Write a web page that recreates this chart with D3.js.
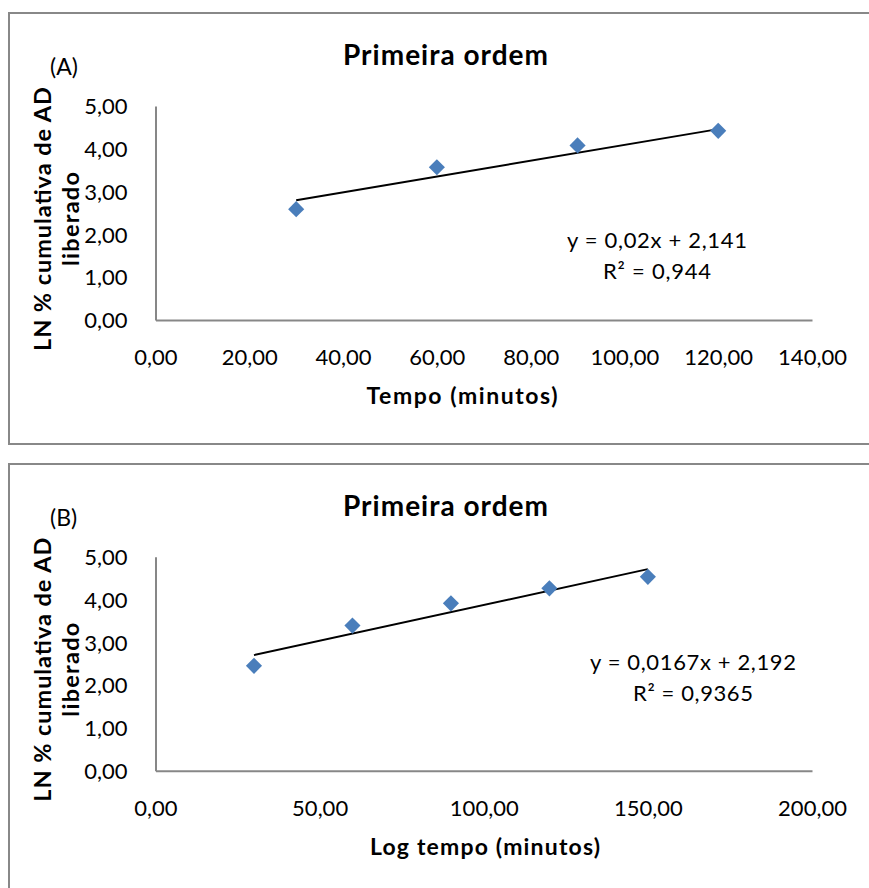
<!DOCTYPE html>
<html>
<head>
<meta charset="utf-8">
<script src="https://cdn.jsdelivr.net/npm/d3@7"></script>
<style>
  html, body { margin: 0; padding: 0; background: #fff; }
  svg { display: block; }
  text { font-family: Lato, "Open Sans", sans-serif; fill: #000; }
</style>
</head>
<body>
<svg id="chart" width="869" height="888"></svg>
<script>
// ---- Data ----
const panelLabels = ["(A)", "(B)"];
const chartTitles = ["Primeira ordem", "Primeira ordem"];
const xAxisTitles = ["Tempo (minutos)", "Log tempo (minutos)"];
const yAxisTitleLines = ["LN % cumulativa de AD", "liberado"];

const xA = [30, 60, 90, 120];
const yA = [2.59, 3.57, 4.08, 4.42];
const xB = [30, 60, 90, 120, 150];
const yB = [2.45, 3.39, 3.91, 4.26, 4.53];

const trendAx = [30, 120];
const trendAy = [2.80, 4.46];
const trendBx = [30, 150];
const trendBy = [2.70, 4.71];

const equationA = ["y = 0,02x + 2,141", "R² = 0,944"];
const equationB = ["y = 0,0167x + 2,192", "R² = 0,9365"];

const xTicksA = [0, 20, 40, 60, 80, 100, 120, 140];
const xTicksB = [0, 50, 100, 150, 200];
const yTicks = [0, 1, 2, 3, 4, 5];

// ---- Drawing ----
const svg = d3.select("#chart");
const fmt = v => d3.format(".2f")(v).replace(".", ",");
const pointColor = "#4a7ebb";
const axisColor = "#878787";

const panels = [
  { top: 13, bottom: 444, x: xA, y: yA, tx: trendAx, ty: trendAy, eq: equationA,
    xTicks: xTicksA, xMax: 140, eqX: 657, eqY: 240, eqW: [180, 108], xtX: 462, xtW: 191 },
  { top: 464, bottom: 900, x: xB, y: yB, tx: trendBx, ty: trendBy, eq: equationB,
    xTicks: xTicksB, xMax: 200, eqX: 693, eqY: 662, eqW: [206, 120], xtX: 485, xtW: 230 }
];

panels.forEach((p, i) => {
  const off = i === 0 ? 0 : 450.7;
  const g = svg.append("g");

  // panel frame (extends past right edge as in the reference)
  g.append("rect")
    .attr("x", 9).attr("y", p.top)
    .attr("width", 900).attr("height", p.bottom - p.top)
    .attr("fill", "none").attr("stroke", "#888").attr("stroke-width", 2);

  const x = d3.scaleLinear().domain([0, p.xMax]).range([155.5, 812]);
  const y = d3.scaleLinear().domain([0, 5]).range([320 + off, 106 + off]);

  // axes
  const xAxis = d3.axisBottom(x).tickValues(p.xTicks).tickSize(0).tickPadding(0).tickFormat(fmt);
  const yAxis = d3.axisLeft(y).tickValues(yTicks).tickSize(0).tickPadding(0).tickFormat(fmt);

  const gx = g.append("g").attr("transform", `translate(0,${y(0)})`).call(xAxis);
  gx.select(".domain").attr("stroke", axisColor).attr("stroke-width", 2);
  gx.selectAll("text").attr("font-size", 22).attr("font-family", "Lato")
    .attr("y", 45).attr("dy", null);

  const gy = g.append("g").attr("transform", `translate(${x(0)},0)`).call(yAxis);
  gy.select(".domain").attr("stroke", axisColor).attr("stroke-width", 2);
  gy.selectAll("text").attr("font-size", 22).attr("font-family", "Lato")
    .attr("x", -28).attr("dy", "0.35em");

  // trend line
  const line = d3.line().x(d => x(d[0])).y(d => y(d[1]));
  g.append("path")
    .datum(d3.zip(p.tx, p.ty))
    .attr("d", line)
    .attr("fill", "none").attr("stroke", "#000").attr("stroke-width", 2);

  // points (diamonds)
  const sym = d3.symbol().type(d3.symbolSquare).size(130);
  g.selectAll("path.pt")
    .data(d3.zip(p.x, p.y))
    .join("path")
    .attr("class", "pt")
    .attr("d", sym)
    .attr("transform", d => `translate(${x(d[0])},${y(d[1])}) rotate(45)`)
    .attr("fill", pointColor);

  // equation
  g.append("text").attr("x", p.eqX).attr("y", p.eqY).attr("dy", "0.35em")
    .attr("text-anchor", "middle").attr("font-size", 22)
    .attr("textLength", p.eqW[0]).attr("lengthAdjust", "spacing").text(p.eq[0]);
  g.append("text").attr("x", p.eqX).attr("y", p.eqY + 31).attr("dy", "0.35em")
    .attr("text-anchor", "middle").attr("font-size", 22)
    .attr("textLength", p.eqW[1]).attr("lengthAdjust", "spacing").text(p.eq[1]);

  // title
  g.append("text").attr("x", 445.5).attr("y", 65 + off)
    .attr("text-anchor", "middle").attr("font-size", 28).attr("font-weight", "bold")
    .attr("textLength", 205).attr("lengthAdjust", "spacing")
    .text(chartTitles[i]);

  // panel label
  g.append("text").attr("x", 50).attr("y", 67 + off).attr("dy", "0.35em")
    .attr("font-size", 23).text(panelLabels[i]);

  // x axis title
  g.append("text").attr("x", p.xtX).attr("y", 396 + off).attr("dy", "0.35em")
    .attr("text-anchor", "middle").attr("font-size", 23).attr("font-weight", "bold")
    .attr("textLength", p.xtW).attr("lengthAdjust", "spacing")
    .text(xAxisTitles[i]);

  // y axis title (two lines, rotated)
  const yt = g.append("g").attr("transform", `translate(0,${219 + off})`);
  yt.append("text").attr("transform", "translate(43,0) rotate(-90)").attr("dy", "0.35em")
    .attr("text-anchor", "middle").attr("font-size", 23.5).attr("font-weight", "bold")
    .attr("textLength", 264).attr("lengthAdjust", "spacing")
    .text(yAxisTitleLines[0]);
  yt.append("text").attr("transform", "translate(71,0) rotate(-90)").attr("dy", "0.35em")
    .attr("text-anchor", "middle").attr("font-size", 23.5).attr("font-weight", "bold")
    .attr("textLength", 94).attr("lengthAdjust", "spacing")
    .text(yAxisTitleLines[1]);
});
</script>
</body>
</html>
